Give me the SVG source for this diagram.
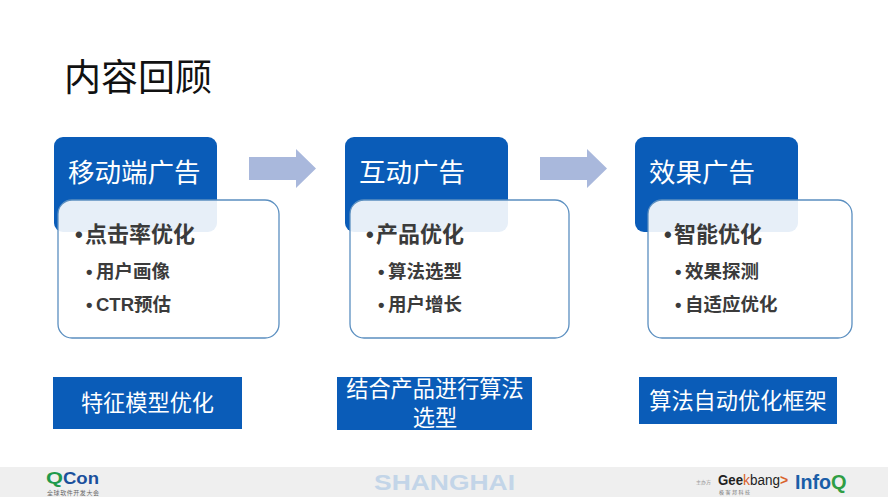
<svg xmlns="http://www.w3.org/2000/svg" width="888" height="500" viewBox="0 0 888 500">
<style>
text{font-family:"Liberation Sans","Noto Sans CJK SC",sans-serif}
.cjk{font-family:"Noto Sans CJK SC",sans-serif}
.head{fill:#0a5cb8}
.card{fill:#fff;fill-opacity:.9;stroke:#5b8fc0;stroke-width:1.3}
.ht{font-size:26.500px;fill:#fff}
.l1{font-size:22px;font-weight:700;fill:#3b3b3b}
.l2{font-size:18.500px;font-weight:700;fill:#3b3b3b}
.bt{font-size:22.200px;fill:#fff;text-anchor:middle}
.arrow{fill:#a9b8dc}
.box{fill:#0a5cb8}
</style>
<rect width="888" height="500" fill="#fff"/>
<text class="cjk" x="64" y="91" font-size="37" fill="#111">内容回顾</text>
<g id="connectors">
<path class="arrow" d="M249 157H296V149L316 168.500L296 188V180H249Z"/>
<path class="arrow" d="M540 157H587V149L607 168.500L587 188V180H540Z"/>
</g>
<g id="node-mobile">
<rect class="head" x="54" y="137" width="163" height="95" rx="9"/>
<rect class="card" x="58" y="200" width="221" height="138" rx="14"/>
<text class="ht cjk" x="68" y="182">移动端广告</text>
<text class="l1" x="75" y="242">•<tspan class="cjk" x="85">点击率优化</tspan></text>
<text class="l2" x="86" y="278">•<tspan class="cjk" x="96">用户画像</tspan></text>
<text class="l2" x="86" y="311">•<tspan x="96">CTR</tspan><tspan class="cjk">预估</tspan></text>
</g>
<g id="node-interactive">
<rect class="head" x="345" y="137" width="163" height="95" rx="9"/>
<rect class="card" x="350" y="200" width="219" height="138" rx="14"/>
<text class="ht cjk" x="359" y="182">互动广告</text>
<text class="l1" x="366" y="242">•<tspan class="cjk" x="376">产品优化</tspan></text>
<text class="l2" x="378" y="278">•<tspan class="cjk" x="388">算法选型</tspan></text>
<text class="l2" x="378" y="311">•<tspan class="cjk" x="388">用户增长</tspan></text>
</g>
<g id="node-performance">
<rect class="head" x="635" y="137" width="163" height="95" rx="9"/>
<rect class="card" x="648" y="200" width="204" height="138" rx="14"/>
<text class="ht cjk" x="649" y="182">效果广告</text>
<text class="l1" x="664" y="242">•<tspan class="cjk" x="674">智能优化</tspan></text>
<text class="l2" x="675" y="278">•<tspan class="cjk" x="685">效果探测</tspan></text>
<text class="l2" x="675" y="311">•<tspan class="cjk" x="685">自适应优化</tspan></text>
</g>
<g id="node-feature">
<rect class="box" x="53" y="377" width="189" height="52"/>
<text class="bt cjk" x="147.500" y="411">特征模型优化</text>
</g>
<g id="node-combine">
<rect class="box" x="337" y="377" width="195" height="53"/>
<text class="bt cjk" x="435" y="397">结合产品进行算法</text>
<text class="bt cjk" x="435" y="426">选型</text>
</g>
<g id="node-framework">
<rect class="box" x="639" y="377" width="198" height="47"/>
<text class="bt cjk" x="738" y="409">算法自动优化框架</text>
</g>
<g id="footer">
<rect x="0" y="467" width="888" height="30" fill="#efefef"/>
<text x="46" y="484" font-size="17" font-weight="700" fill="#1f9a4b" textLength="17" lengthAdjust="spacingAndGlyphs">Q</text>
<text x="63" y="484" font-size="17" font-weight="700" fill="#1a4f9c" textLength="36" lengthAdjust="spacingAndGlyphs">Con</text>
<text class="cjk" x="47" y="495" font-size="6" fill="#666" textLength="52">全球软件开发大会</text>
<text x="374" y="490" font-size="22" font-weight="700" fill="#c3d5e8" textLength="141" lengthAdjust="spacingAndGlyphs">SHANGHAI</text>
<text class="cjk" x="696" y="484" font-size="5" fill="#999">主办方</text>
<text x="718" y="485" font-size="14" font-weight="700" fill="#222" textLength="25" lengthAdjust="spacingAndGlyphs">Gee</text>
<text x="743" y="485" font-size="14" fill="#d9622b">k</text>
<text x="750" y="485" font-size="14" fill="#222" textLength="30" lengthAdjust="spacingAndGlyphs">bang</text>
<text x="780" y="485" font-size="14" font-weight="700" fill="#d9622b">&gt;</text>
<text class="cjk" x="719" y="494" font-size="5" fill="#777" textLength="31">极客邦科技</text>
<text x="795" y="489" font-size="20" font-weight="700" fill="#1a5ea8" textLength="36" lengthAdjust="spacingAndGlyphs">Info</text>
<text x="831" y="489" font-size="20" font-weight="700" fill="#2f9e44">Q</text>
</g>
</svg>
